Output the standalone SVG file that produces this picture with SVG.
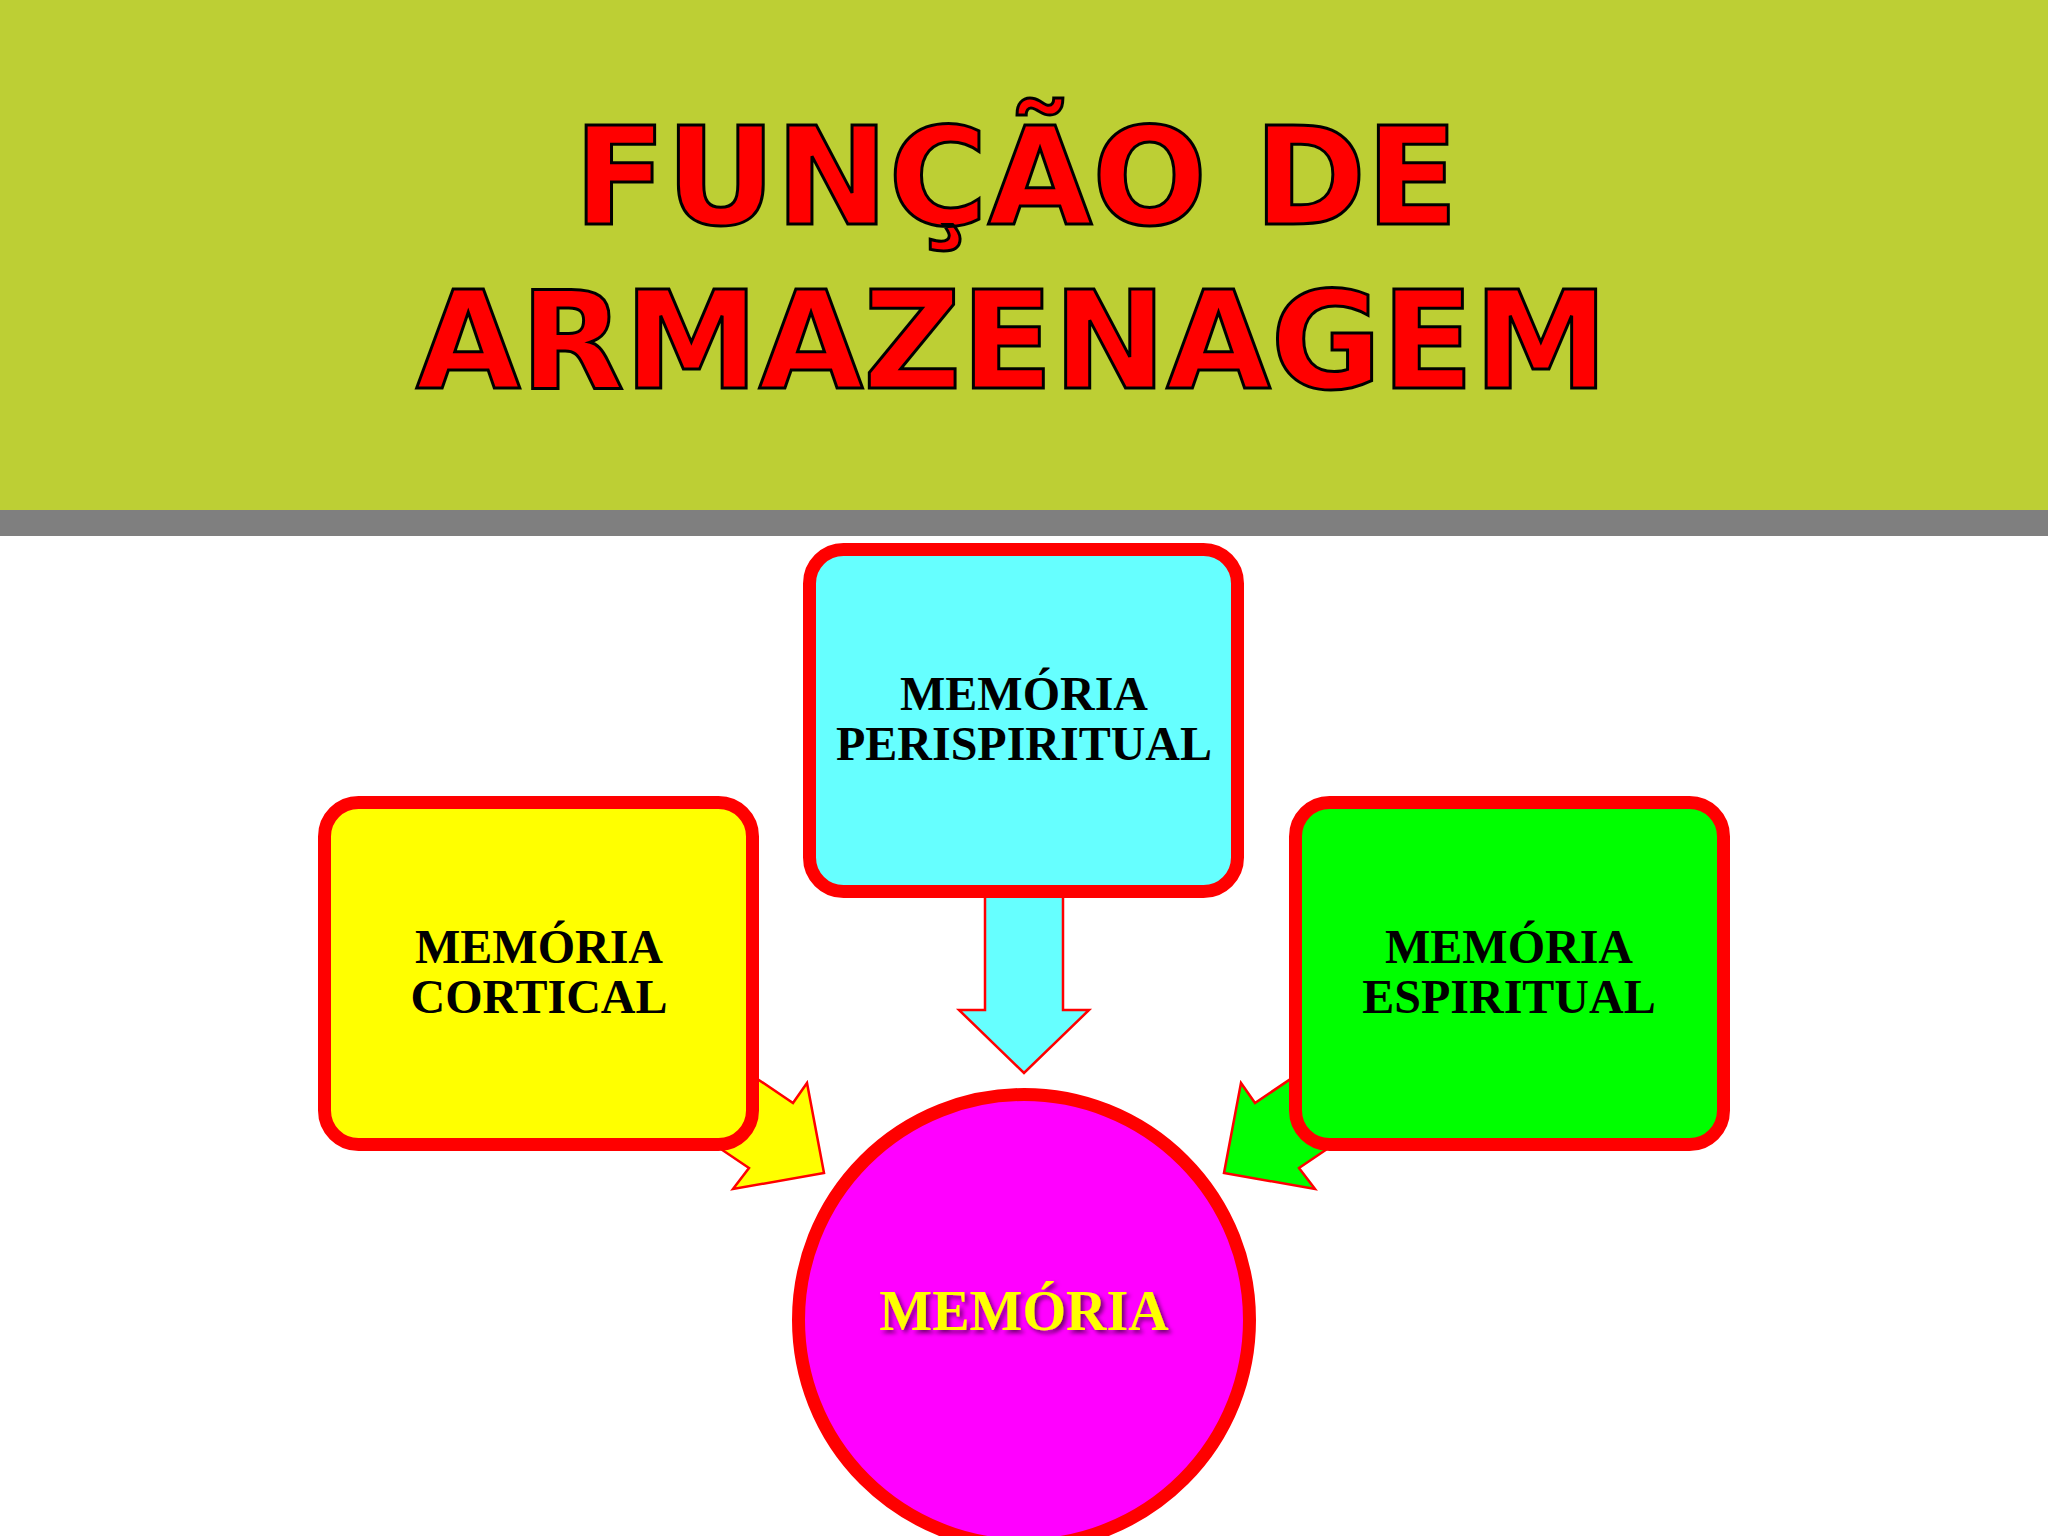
<svg xmlns="http://www.w3.org/2000/svg" width="2048" height="1536" viewBox="0 0 2048 1536">
  <style>
    .title { font-family: "DejaVu Sans", "Liberation Sans", sans-serif; font-weight: bold; font-size: 135px; fill: #FF0000; stroke: #000000; stroke-width: 3; text-anchor: middle; }
    .box { stroke: #FF0000; stroke-width: 13; }
    .lbl { font-family: "Liberation Serif", "Times New Roman", serif; font-weight: bold; font-size: 48px; fill: #000000; text-anchor: middle; }
    .main { font-family: "Liberation Serif", "Times New Roman", serif; font-weight: bold; font-size: 56px; fill: #FFFF00; text-anchor: middle; }
    .arrow { stroke: #FF0000; stroke-width: 2.5; stroke-linejoin: miter; }
  </style>
  <defs>
    <filter id="shadow" x="-10%" y="-30%" width="130%" height="170%">
      <feDropShadow dx="3" dy="3" stdDeviation="2" flood-color="#000000" flood-opacity="0.55"/>
    </filter>
  </defs>

  <rect x="0" y="0" width="2048" height="1536" fill="#FFFFFF"/>

  <g id="header">
    <rect x="0" y="0" width="2048" height="510" fill="#BDCF34"/>
    <rect x="0" y="510" width="2048" height="26" fill="#7F7F7F"/>
    <text class="title" x="1016" y="224">FUNÇÃO DE</text>
    <text class="title" x="1012" y="388">ARMAZENAGEM</text>
  </g>

  <g id="connectors">
    <polygon class="arrow" fill="#66FFFF" points="985,880 1063,880 1063,1010 1089,1010 1024,1073 959,1010 985,1010"/>
    <polygon class="arrow" fill="#FFFF00" points="710,1047 793,1103 807,1083 824,1173 733,1189 749,1168 666,1112"/>
    <polygon class="arrow" fill="#00FF00" points="1338,1047 1255,1103 1241,1083 1224,1173 1315,1189 1299,1168 1382,1112"/>
  </g>

  <g id="node-perispiritual">
    <rect class="box" x="809.5" y="549.5" width="428" height="342" rx="34" ry="34" fill="#66FFFF"/>
    <text class="lbl" x="1024" y="710">MEMÓRIA</text>
    <text class="lbl" x="1024" y="760">PERISPIRITUAL</text>
  </g>

  <g id="node-cortical">
    <rect class="box" x="324.5" y="802.5" width="428" height="342" rx="34" ry="34" fill="#FFFF00"/>
    <text class="lbl" x="539" y="963">MEMÓRIA</text>
    <text class="lbl" x="539" y="1013">CORTICAL</text>
  </g>

  <g id="node-espiritual">
    <rect class="box" x="1295.5" y="802.5" width="428" height="342" rx="34" ry="34" fill="#00FF00"/>
    <text class="lbl" x="1509" y="963">MEMÓRIA</text>
    <text class="lbl" x="1509" y="1013">ESPIRITUAL</text>
  </g>

  <g id="node-memoria">
    <circle class="box" cx="1024" cy="1320" r="225.5" fill="#FF00FF"/>
    <text class="main" x="1024" y="1330" filter="url(#shadow)">MEMÓRIA</text>
  </g>
</svg>
